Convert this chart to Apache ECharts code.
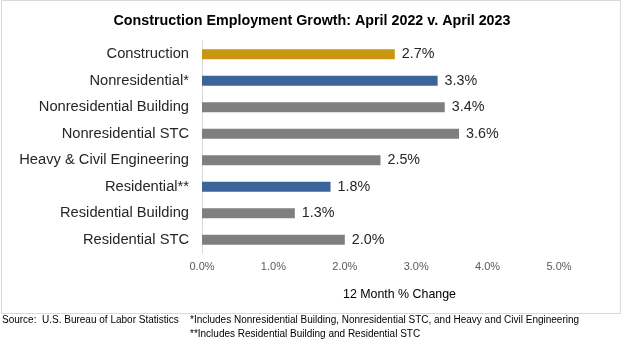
<!DOCTYPE html>
<html>
<head>
<meta charset="utf-8">
<script src="https://cdn.jsdelivr.net/npm/echarts@6/dist/echarts.min.js"></script>
<style>
  html, body { margin: 0; padding: 0; background: #fff; }
  #chart { width: 624px; height: 352px; }
</style>
</head>
<body>
<div id="chart"></div>
<script>
const categories = [
  'Construction',
  'Nonresidential*',
  'Nonresidential Building',
  'Nonresidential STC',
  'Heavy & Civil Engineering',
  'Residential**',
  'Residential Building',
  'Residential STC'
]
const growth = [2.7, 3.3, 3.4, 3.6, 2.5, 1.8, 1.3, 2.0]
const barColors = ['#C8960F', '#3B6498', '#7F7F7F', '#7F7F7F', '#7F7F7F', '#3B6498', '#7F7F7F', '#7F7F7F']
const xTicks = [0, 1, 2, 3, 4, 5]

const font = 'Liberation Sans, Arial, sans-serif'
const chart = echarts.init(document.getElementById('chart'))

chart.setOption({
  backgroundColor: '#fff',
  animation: false,
  title: {
    text: 'Construction Employment Growth: April 2022 v. April 2023',
    left: 'center',
    top: 9,
    textStyle: { fontFamily: font, fontSize: 14.3, fontWeight: 'bold', color: '#000' }
  },
  grid: { left: 202, right: 65, top: 41, bottom: 99, containLabel: false },
  xAxis: {
    type: 'value',
    min: xTicks[0],
    max: xTicks[xTicks.length - 1],
    interval: 1,
    name: '12 Month % Change',
    nameLocation: 'middle',
    nameGap: 36,
    nameTextStyle: { fontFamily: font, fontSize: 12.4, color: '#000', padding: [0, 0, 0, 38] },
    axisLine: { show: false },
    axisTick: { show: false },
    splitLine: { show: false },
    axisLabel: {
      fontFamily: font, fontSize: 11, color: '#595959', margin: 8,
      formatter: v => v.toFixed(1) + '%'
    }
  },
  yAxis: {
    type: 'category',
    data: categories,
    inverse: true,
    axisLine: { show: true, lineStyle: { color: '#D9D9D9', width: 1 } },
    axisTick: { show: false },
    axisLabel: { fontFamily: font, fontSize: 14.7, color: '#262626', margin: 13 }
  },
  series: [{
    type: 'bar',
    barWidth: 10,
    data: growth.map((v, i) => ({ value: v, itemStyle: { color: barColors[i] } })),
    label: {
      show: true,
      position: 'right',
      distance: 7,
      fontFamily: font,
      fontSize: 14.3,
      color: '#262626',
      formatter: p => p.value.toFixed(1) + '%'
    }
  }],
  graphic: [
    {
      type: 'rect',
      shape: { x: 1.5, y: 0.5, width: 619, height: 313 },
      style: { fill: 'none', stroke: '#D9D9D9', lineWidth: 1 },
      silent: true
    },
    {
      type: 'text', left: 2, top: 315,
      style: { text: 'Source:  U.S. Bureau of Labor Statistics', fontFamily: font, fontSize: 10, fill: '#000' }
    },
    {
      type: 'text', left: 190, top: 313,
      style: {
        text: '*Includes Nonresidential Building, Nonresidential STC, and Heavy and Civil Engineering\n**Includes Residential Building and Residential STC',
        fontFamily: font, fontSize: 10, lineHeight: 14, fill: '#000'
      }
    }
  ]
})
</script>
</body>
</html>
